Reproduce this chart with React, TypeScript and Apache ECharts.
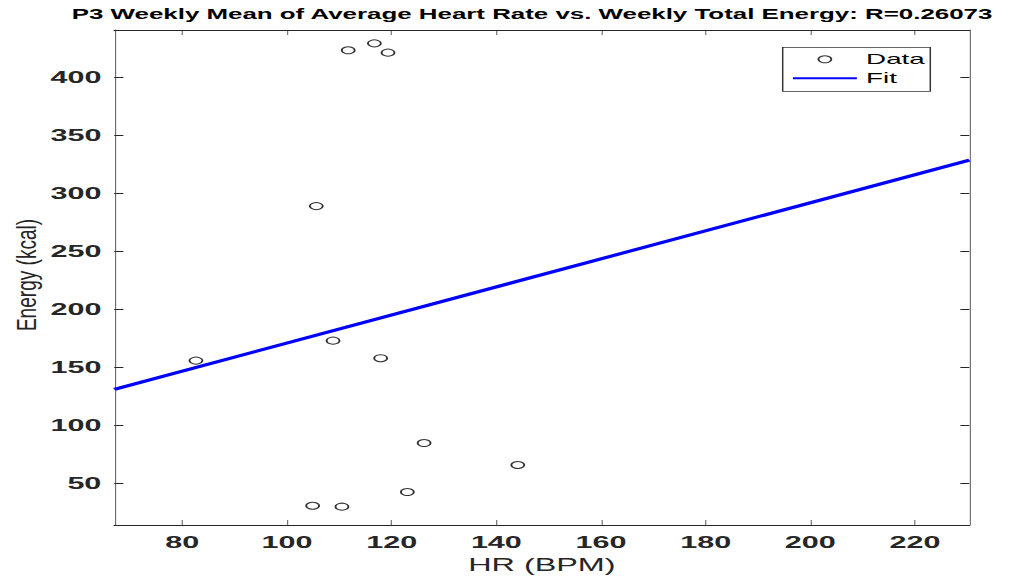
import React, { useEffect, useRef } from 'react';
import * as echarts from 'echarts';

const titleText = 'P3 Weekly Mean of Average Heart Rate vs. Weekly Total Energy: R=0.26073';
const xName = 'HR (BPM)';
const yName = 'Energy (kcal)';
const dataName = 'Data';
const fitName = 'Fit';

const hrValues = [82.6, 104.9, 105.6, 108.8, 110.5, 111.7, 116.7, 117.9, 119.3, 123.0, 126.2, 144.1];
const energyValues = [155.7, 30.7, 288.8, 172.9, 29.9, 423, 429, 157.8, 421, 42.5, 84.7, 65.8];

const fitX = [67.0, 230.4];
const fitY = [131.0, 328.4];

const xTicks = [80, 100, 120, 140, 160, 180, 200, 220];
const yTicks = [50, 100, 150, 200, 250, 300, 350, 400];
const xRange = [67.0, 230.4];
const yRange = [14.1, 440.5];

// the reference is horizontally stretched; reproduce with a CSS scaleX
const S = 1.85;
const W = 1010 / S;
const H = 584;
const FONT = '"Liberation Sans", Arial, Helvetica, sans-serif';
const AX = '#262626';

export default function App() {
  const ref = useRef<HTMLDivElement>(null);
  useEffect(() => {
    if (!ref.current) return;
    const chart = echarts.init(ref.current, undefined, { renderer: 'svg' });
    const hv = 1 / S; // line width for vertical strokes
    const axisCommon = (pos: string, isX: boolean, show: boolean) => ({
      type: 'value',
      position: pos,
      min: isX ? xRange[0] : yRange[0],
      max: isX ? xRange[1] : yRange[1],
      axisLine: { show: true, onZero: false, lineStyle: { color: AX, width: isX ? 1 : hv } },
      axisTick: {
        show: true,
        inside: true,
        length: isX ? 5 : 4.9,
        customValues: isX ? xTicks : yTicks,
        lineStyle: { color: AX, width: isX ? hv : 1 },
      },
      axisLabel: {
        show,
        customValues: isX ? xTicks : yTicks,
        margin: isX ? 9 : 7,
        fontSize: 16.5,
        fontWeight: 'bold',
        color: AX,
        fontFamily: FONT,
      },
      splitLine: { show: false },
    });
    chart.setOption({
      animation: false,
      backgroundColor: '#fff',
      title: {
        text: titleText,
        left: 287.6,
        textAlign: 'center',
        top: 7,
        padding: 0,
        textStyle: { fontSize: 14, fontWeight: 'bold', color: '#000', fontFamily: FONT },
      },
      grid: {
        left: 114.3 / S,
        right: W - 969.3 / S,
        top: 30,
        bottom: H - 525,
        containLabel: false,
        outerBoundsMode: 'none',
      },
      legend: {
        orient: 'vertical',
        left: 782.7 / S,
        top: 47.3,
        padding: [4, 3, 5, 4.5],
        itemWidth: 64 / S,
        itemHeight: 7,
        itemGap: 3,
        backgroundColor: '#fff',
        borderColor: '#333',
        borderWidth: 0.8,
        textStyle: { fontSize: 15, lineHeight: 16, color: '#000', fontFamily: FONT },
        data: [
          {
            name: dataName,
            icon: 'circle',
            itemStyle: { color: 'rgba(0,0,0,0)', borderColor: '#000', borderWidth: 1 },
          },
          {
            name: fitName,
            itemStyle: { color: 'rgba(0,0,0,0)', borderWidth: 0, opacity: 0 },
          },
        ],
      },
      xAxis: [
        {
          ...axisCommon('bottom', true, true),
          name: xName,
          nameLocation: 'middle',
          nameGap: 24,
          nameTextStyle: { fontSize: 17.5, color: AX, fontFamily: FONT },
        },
        axisCommon('top', true, false),
      ],
      yAxis: [axisCommon('left', false, true), axisCommon('right', false, false)],
      graphic: [
        {
          type: 'text',
          x: 26 / S,
          y: 275,
          rotation: Math.PI / 2,
          scaleX: 1.27,
          style: {
            text: yName,
            fontSize: 15,
            fontFamily: FONT,
            fill: AX,
            align: 'center',
            verticalAlign: 'middle',
          },
        },
      ],
      series: [
        {
          name: dataName,
          type: 'scatter',
          xAxisIndex: 0,
          yAxisIndex: 0,
          symbol: 'circle',
          symbolSize: 7,
          itemStyle: { color: 'rgba(0,0,0,0)', borderColor: '#000', borderWidth: 1 },
          data: hrValues.map((x, i) => [x, energyValues[i]]),
          z: 3,
        },
        {
          name: fitName,
          type: 'line',
          xAxisIndex: 0,
          yAxisIndex: 0,
          showSymbol: false,
          symbol: 'none',
          lineStyle: { color: '#0000ff', width: 3 },
          itemStyle: { color: '#0000ff' },
          data: fitX.map((x, i) => [x, fitY[i]]),
          z: 2,
        },
      ],
    });
    return () => chart.dispose();
  }, []);
  return (
    <div
      style={{
        position: 'absolute',
        left: 0,
        top: 0,
        width: 1010,
        height: H,
        overflow: 'hidden',
        background: '#fff',
      }}
    >
      <div
        ref={ref}
        style={{
          width: W,
          height: H,
          transform: `scaleX(${S})`,
          transformOrigin: '0 0',
        }}
      />
    </div>
  );
}
